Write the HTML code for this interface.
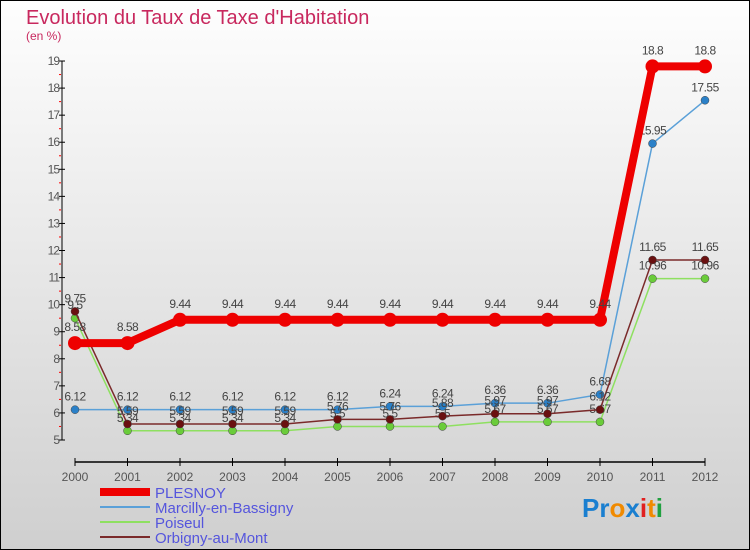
<!DOCTYPE html>
<html><head><meta charset="utf-8"><style>
body{margin:0;width:750px;height:550px;overflow:hidden;font-family:"Liberation Sans",sans-serif}
svg{display:block}
</style></head><body>
<svg width="750" height="550" xmlns="http://www.w3.org/2000/svg">
<defs><linearGradient id="bg" x1="0" y1="0" x2="0" y2="1"><stop offset="0" stop-color="#fefefe"/><stop offset="1" stop-color="#cfcfcf"/></linearGradient></defs>
<rect x="0.5" y="0.5" width="749" height="549" fill="url(#bg)" stroke="#000"/>
<text x="26" y="24" font-size="20" fill="#c8285e">Evolution du Taux de Taxe d'Habitation</text>
<text x="26" y="40" font-size="12" fill="#c8285e">(en %)</text>
<g id="axes"></g><g id="series"></g><g id="legend"></g>
<text x="582" y="517" font-size="26" font-weight="bold"><tspan fill="#1a7fd0">Pr</tspan><tspan fill="#f08a00">o</tspan><tspan fill="#1a7fd0">x</tspan><tspan fill="#e02020">i</tspan><tspan fill="#f08a00">t</tspan><tspan fill="#20a040">i</tspan></text>
</svg>
<script>
const years=[2000,2001,2002,2003,2004,2005,2006,2007,2008,2009,2010,2011,2012];
const yTicks=[5,6,7,8,9,10,11,12,13,14,15,16,17,18,19];
const plesnoy=[8.58,8.58,9.44,9.44,9.44,9.44,9.44,9.44,9.44,9.44,9.44,18.8,18.8];
const marcilly=[6.12,6.12,6.12,6.12,6.12,6.12,6.24,6.24,6.36,6.36,6.68,15.95,17.55];
const poiseul=[9.5,5.34,5.34,5.34,5.34,5.5,5.5,5.5,5.67,5.67,5.67,10.96,10.96];
const orbigny=[9.75,5.59,5.59,5.59,5.59,5.76,5.76,5.88,5.97,5.97,6.12,11.65,11.65];
const names=["PLESNOY","Marcilly-en-Bassigny","Poiseul","Orbigny-au-Mont"];
const NS="http://www.w3.org/2000/svg";
const X=i=>75+i*52.5, Y=v=>440-(v-5)*27.07;
function mk(p,t,a){const e=document.createElementNS(NS,t);for(const k in a)e.setAttribute(k,a[k]);p.appendChild(e);return e;}
const ax=document.getElementById('axes');
let l=mk(ax,'line',{x1:62,y1:Y(19),x2:62,y2:Y(5),stroke:'#000'});


l=mk(ax,'line',{x1:75,y1:462,x2:705,y2:462,stroke:'#000','stroke-width':1.5});


yTicks.forEach(v=>{mk(ax,'line',{x1:59,y1:Y(v),x2:65,y2:Y(v),stroke:'#000'});
 if(v<19)mk(ax,'line',{x1:59,y1:Y(v+0.5),x2:61,y2:Y(v+0.5),stroke:'#f00'});
 const t=mk(ax,'text',{x:59,y:Y(v)+4,'font-size':12,fill:'#555','text-anchor':'end','letter-spacing':'-1'});t.textContent=v;
 
 });
years.forEach((y,i)=>{mk(ax,'line',{x1:X(i),y1:458,x2:X(i),y2:466,stroke:'#000'});
 const t=mk(ax,'text',{x:X(i),y:481,'font-size':12,fill:'#555','text-anchor':'middle'});t.textContent=y;
 
 });
const sg=document.getElementById('series');
const defs=[[marcilly,'#5aa0d8','#2a80c8',1.5,4,'marcilly'],[poiseul,'#8ee060','#6acc3a',1.5,4,'poiseul'],[orbigny,'#7a2a2a','#6a1010',1.5,4,'orbigny'],[plesnoy,'#ee0000','#ee0000',8,7,'plesnoy']];
defs.forEach(([d,lc,pc,w,r,n])=>{
 const p=mk(sg,'polyline',{points:d.map((v,i)=>X(i)+','+Y(v)).join(' '),fill:'none',stroke:lc,'stroke-width':w});
 
 
 d.forEach((v,i)=>{const c=mk(sg,'circle',{cx:X(i),cy:Y(v),r:r,fill:pc,stroke:w>2?'#ee0000':'#444','stroke-width':w>2?0:0.5});
  
  
  const t=mk(sg,'text',{x:X(i),y:Y(v)-(w>2?12:9),'font-size':12,fill:'#444','text-anchor':'middle','letter-spacing':'-0.5'});t.textContent=v;
  
  });
});
const lg=document.getElementById('legend');
const lcol=['#ee0000','#5aa0d8','#8ee060','#7a2a2a'],lw=[8,2,2,2];
names.forEach((n,i)=>{const y=492+i*15;
 const ln=mk(lg,'line',{x1:100,y1:y,x2:150,y2:y,stroke:lcol[i],'stroke-width':lw[i]});
 
 
 const t=mk(lg,'text',{x:155,y:y+6,'font-size':15,fill:'#5555dd'});t.textContent=n;
 
 });
</script>
</body></html>
